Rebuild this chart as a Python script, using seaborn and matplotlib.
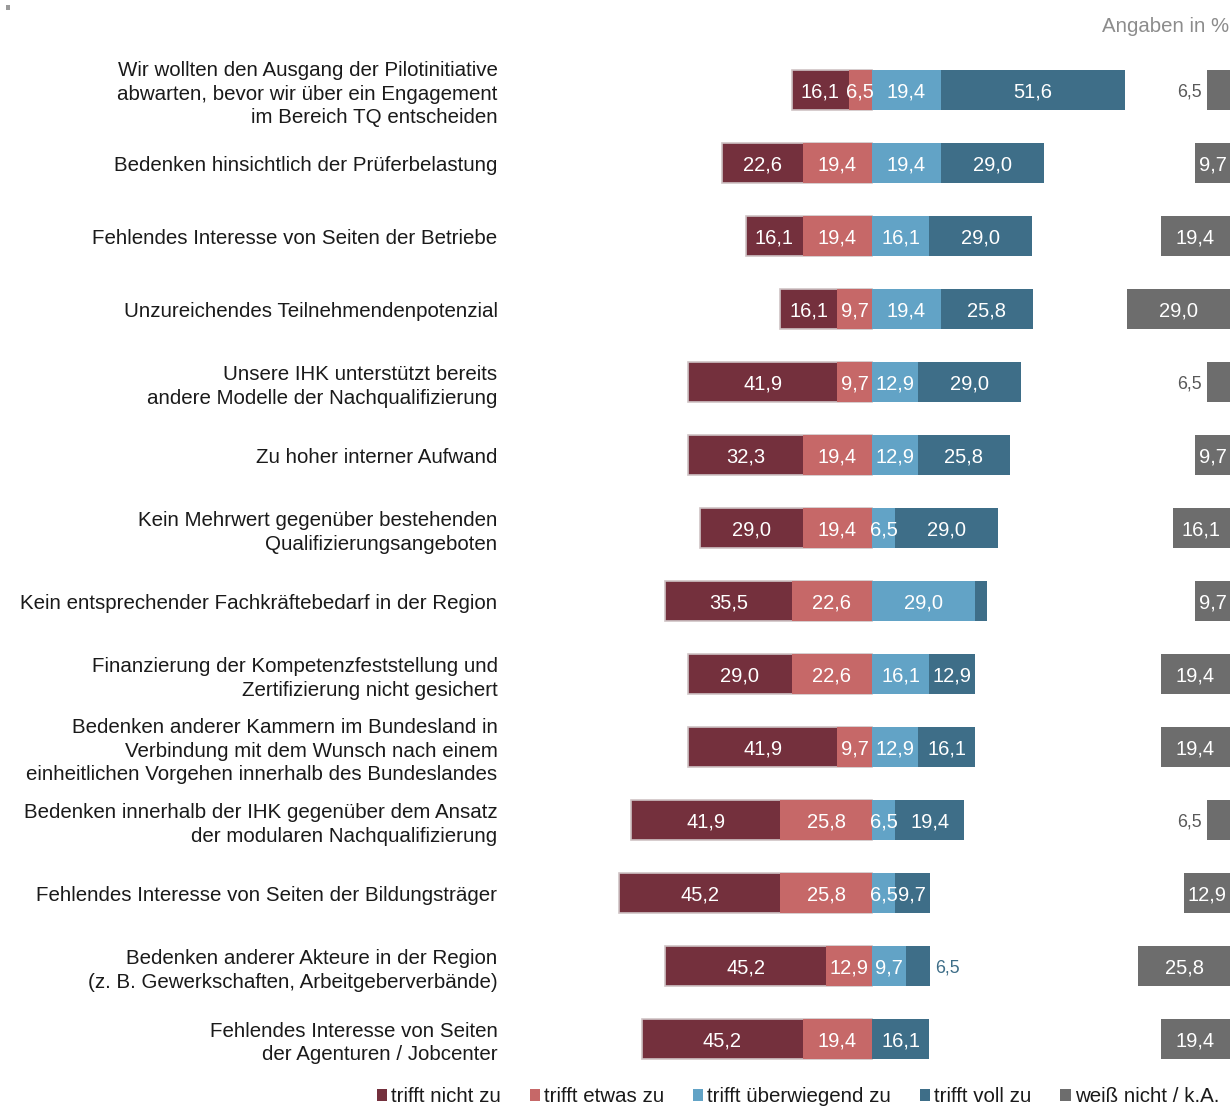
import matplotlib
matplotlib.use("Agg")
import matplotlib.pyplot as plt
from matplotlib.patches import Patch, Rectangle
import seaborn as sns
import pandas as pd

categories = [
    "Wir wollten den Ausgang der Pilotinitiative\nabwarten, bevor wir über ein Engagement\nim Bereich TQ entscheiden",
    "Bedenken hinsichtlich der Prüferbelastung",
    "Fehlendes Interesse von Seiten der Betriebe",
    "Unzureichendes Teilnehmendenpotenzial",
    "Unsere IHK unterstützt bereits\nandere Modelle der Nachqualifizierung",
    "Zu hoher interner Aufwand",
    "Kein Mehrwert gegenüber bestehenden\nQualifizierungsangeboten",
    "Kein entsprechender Fachkräftebedarf in der Region",
    "Finanzierung der Kompetenzfeststellung und\nZertifizierung nicht gesichert",
    "Bedenken anderer Kammern im Bundesland in\nVerbindung mit dem Wunsch nach einem\neinheitlichen Vorgehen innerhalb des Bundeslandes",
    "Bedenken innerhalb der IHK gegenüber dem Ansatz\nder modularen Nachqualifizierung",
    "Fehlendes Interesse von Seiten der Bildungsträger",
    "Bedenken anderer Akteure in der Region\n(z. B. Gewerkschaften, Arbeitgeberverbände)",
    "Fehlendes Interesse von Seiten\nder Agenturen / Jobcenter",
]
nicht = [16.1, 22.6, 16.1, 16.1, 41.9, 32.3, 29.0, 35.5, 29.0, 41.9, 41.9, 45.2, 45.2, 45.2]
etwas = [6.5, 19.4, 19.4, 9.7, 9.7, 19.4, 19.4, 22.6, 22.6, 9.7, 25.8, 25.8, 12.9, 19.4]
ueberw = [19.4, 19.4, 16.1, 19.4, 12.9, 12.9, 6.5, 29.0, 16.1, 12.9, 6.5, 6.5, 9.7, 0.0]
voll = [51.6, 29.0, 29.0, 25.8, 29.0, 25.8, 29.0, 3.2, 12.9, 16.1, 19.4, 9.7, 6.5, 16.1]
weiss = [6.5, 9.7, 19.4, 29.0, 6.5, 9.7, 16.1, 9.7, 19.4, 19.4, 6.5, 12.9, 25.8, 19.4]
legend_labels = ["trifft nicht zu", "trifft etwas zu", "trifft überwiegend zu",
                 "trifft voll zu", "weiß nicht / k.A."]

colors = ["#74303D", "#C66868", "#62A3C6", "#3E6E88", "#6D6D6D"]

sns.set_theme(style="white")
plt.rcParams["font.family"] = ["Liberation Sans", "DejaVu Sans"]

df = pd.DataFrame({
    "cat": categories,
    "nicht": nicht, "etwas": etwas, "ueberw": ueberw, "voll": voll, "weiss": weiss,
})
df["neg_total"] = -(df["nicht"] + df["etwas"])
df["neg_etwas"] = -df["etwas"]
df["pos_total"] = df["ueberw"] + df["voll"]

W, H = 1231, 1106
fig = plt.figure(figsize=(W / 100, H / 100), dpi=100)
ax = fig.add_axes([510 / W, 1 - 1075.5 / H, 720 / W, 1022 / H])

XMIN, XMAX = -101.7, 100.6
bw = 0.55

sns.barplot(data=df, y="cat", x="neg_total", orient="h", color=colors[0], saturation=1,
            width=bw, ax=ax, edgecolor="#CFC3C5", linewidth=1.2)
sns.barplot(data=df, y="cat", x="neg_etwas", orient="h", color=colors[1], saturation=1,
            width=bw, ax=ax, linewidth=0)
sns.barplot(data=df, y="cat", x="pos_total", orient="h", color=colors[3], saturation=1,
            width=bw, ax=ax, linewidth=0)
sns.barplot(data=df, y="cat", x="ueberw", orient="h", color=colors[2], saturation=1,
            width=bw, ax=ax, linewidth=0)
ax.set_xlim(XMIN, XMAX)

ax2 = ax.twiny()
sns.barplot(data=df, y="cat", x="weiss", orient="h", color=colors[4], saturation=1,
            width=bw, ax=ax2, linewidth=0)
ax2.set_xlim(XMAX - XMIN, 0)


def fmt(v):
    return f"{v:.1f}".replace(".", ",")


lab_fs = 14.5
small_fs = 12.8
va = "center_baseline"
for i in range(len(categories)):
    n, e, u, v, w = nicht[i], etwas[i], ueberw[i], voll[i], weiss[i]
    ax.text(-e - n / 2, i, fmt(n), ha="center", va=va, color="white", fontsize=lab_fs)
    ax.text(-e / 2, i, fmt(e), ha="center", va=va, color="white", fontsize=lab_fs)
    if u > 0:
        ax.text(u / 2, i, fmt(u), ha="center", va=va, color="white", fontsize=lab_fs)
    if v >= 7:
        ax.text(u + v / 2, i, fmt(v), ha="center", va=va, color="white", fontsize=lab_fs)
    elif v >= 5:
        ax.text(u + v + 1.5, i, fmt(v), ha="left", va=va, color=colors[3], fontsize=small_fs)
    if w >= 7:
        ax2.text(w / 2, i, fmt(w), ha="center", va=va, color="white", fontsize=lab_fs)
    else:
        ax2.text(w + 1.4, i, fmt(w), ha="right", va=va, color="#595959", fontsize=small_fs)

for a in (ax, ax2):
    for s in a.spines.values():
        s.set_visible(False)
    a.set_xticks([])
    a.set_xlabel("")
    a.set_ylabel("")

ax.set_yticks(range(len(categories)))
ax.set_yticklabels(categories, fontsize=14.8, color="#1a1a1a")
for t in ax.get_yticklabels():
    t.set_linespacing(1.3)
ax.tick_params(axis="y", length=0, pad=9)

fig.text(1229 / W, 1 - 27 / H, "Angaben in %", ha="right", va="center",
         color="#8c8c8c", fontsize=14.7)

fig.add_artist(Rectangle((6 / W, 1 - 10 / H), 4 / W, 5 / H, transform=fig.transFigure,
                         facecolor="#9a9a9a", edgecolor="none"))

handles = [Patch(facecolor=c, edgecolor="none") for c in colors]
fig.legend(handles, legend_labels, loc="center", bbox_to_anchor=(798 / W, 1 - 1097 / H),
           ncol=5, frameon=False, handlelength=0.5, handleheight=0.5,
           handletextpad=0.2, columnspacing=1.4, fontsize=14.8, labelcolor="#1a1a1a")

fig.savefig("out.png", dpi=100)
